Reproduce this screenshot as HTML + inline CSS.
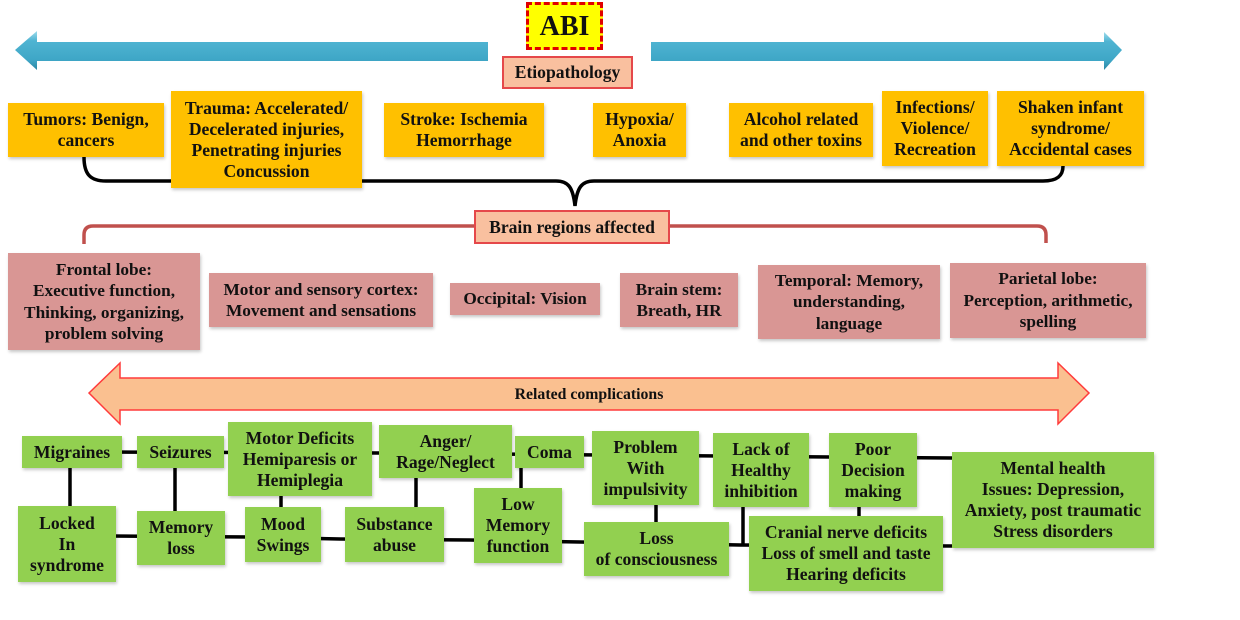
<!DOCTYPE html>
<html>
<head>
<meta charset="utf-8">
<style>
  html,body{margin:0;padding:0;background:#fff;}
  #c{position:relative;width:1240px;height:620px;overflow:hidden;background:#fff;
     font-family:"Liberation Serif","Times New Roman",serif;font-weight:bold;color:#111;}
  .b{position:absolute;box-sizing:border-box;display:flex;align-items:center;justify-content:center;
     text-align:center;line-height:21px;white-space:nowrap;box-shadow:1px 2px 3px rgba(0,0,0,0.22);}
  .o{background:#FFC000;font-size:17.6px;}
  .p{background:#D99694;font-size:17.3px;line-height:21.5px;}
  .g{background:#92D050;font-size:17.6px;}
  .s{background:#F9C09F;border:2px solid #E5484A;font-size:17.6px;box-shadow:none;}
  svg{position:absolute;left:0;top:0;}
</style>
</head>
<body>
<div id="c">
<svg width="1240" height="620" viewBox="0 0 1240 620">
  <defs>
    <linearGradient id="bl" x1="0" y1="0" x2="0" y2="1">
      <stop offset="0" stop-color="#9fdcec"/>
      <stop offset="0.25" stop-color="#4fb4d2"/>
      <stop offset="0.75" stop-color="#3ea6c6"/>
      <stop offset="1" stop-color="#2c86a3"/>
    </linearGradient>
  </defs>
  <!-- blue arrows -->
  <polygon points="15,50 37,31 37,42 488,42 488,61 37,61 37,70" fill="url(#bl)"/>
  <polygon points="651,42 1104,42 1104,32 1122,50 1104,70 1104,61 651,61" fill="url(#bl)"/>
  <!-- black brace -->
  <path d="M84,157 C84,174 90,181 106,181 L556,181 C568,181 573,187 575,206 C577,187 582,181 594,181 L1043,181 C1057,181 1063,176 1063,166"
        fill="none" stroke="#000" stroke-width="3.5"/>
  <!-- red bracket -->
  <path d="M474,226 L93,226 Q84,226 84,235 L84,244" fill="none" stroke="#C0504D" stroke-width="3.5"/>
  <path d="M670,226 L1037,226 Q1046,226 1046,235 L1046,243" fill="none" stroke="#C0504D" stroke-width="3.5"/>
  <!-- orange double arrow -->
  <polygon points="89,393 120,363 120,378 1058,378 1058,363 1089,393 1058,424 1058,410 120,410 120,424"
           fill="#FAC090" stroke="#FF3B3B" stroke-width="1.5"/>
  <text x="589" y="399" text-anchor="middle" font-family="Liberation Serif, serif" font-weight="bold" font-size="15.8" fill="#111">Related complications</text>
  <!-- connectors -->
  <g fill="none" stroke="#000" stroke-width="3.5">
    <path d="M110,452 L380,453 L600,455 L830,457 L952,458"/>
    <path d="M110,536 L250,537 L340,539 L470,540 L580,542 L740,545 L952,546"/>
    <path d="M70,466 V508"/>
    <path d="M175,466 V512"/>
    <path d="M281,494 V509"/>
    <path d="M416,476 V509"/>
    <path d="M521,466 V490"/>
    <path d="M656,503 V523"/>
    <path d="M743,505 V545"/>
    <path d="M859,505 V518"/>
  </g>
</svg>

<!-- ABI -->
<div class="b" style="left:526px;top:2px;width:77px;height:48px;background:#FFFF00;border:3px dashed #E00000;font-size:28px;box-shadow:none;">ABI</div>
<div class="b s" style="left:502px;top:56px;width:131px;height:33px;">Etiopathology</div>

<!-- etiology row -->
<div class="b o" style="left:8px;top:103px;width:156px;height:54px;">Tumors: Benign,<br>cancers</div>
<div class="b o" style="left:171px;top:91px;width:191px;height:97px;">Trauma: Accelerated/<br>Decelerated injuries,<br>Penetrating injuries<br>Concussion</div>
<div class="b o" style="left:384px;top:103px;width:160px;height:54px;">Stroke: Ischemia<br>Hemorrhage</div>
<div class="b o" style="left:593px;top:103px;width:93px;height:54px;">Hypoxia/<br>Anoxia</div>
<div class="b o" style="left:729px;top:103px;width:144px;height:54px;">Alcohol related<br>and other toxins</div>
<div class="b o" style="left:882px;top:91px;width:106px;height:75px;">Infections/<br>Violence/<br>Recreation</div>
<div class="b o" style="left:997px;top:91px;width:147px;height:75px;">Shaken infant<br>syndrome/<br>Accidental cases</div>

<!-- brain regions -->
<div class="b s" style="left:474px;top:210px;width:196px;height:34px;">Brain regions affected</div>
<div class="b p" style="left:8px;top:253px;width:192px;height:97px;">Frontal lobe:<br>Executive function,<br>Thinking, organizing,<br>problem solving</div>
<div class="b p" style="left:209px;top:273px;width:224px;height:54px;">Motor and sensory cortex:<br>Movement and sensations</div>
<div class="b p" style="left:450px;top:283px;width:150px;height:32px;">Occipital: Vision</div>
<div class="b p" style="left:620px;top:273px;width:118px;height:54px;">Brain stem:<br>Breath, HR</div>
<div class="b p" style="left:758px;top:265px;width:182px;height:74px;">Temporal: Memory,<br>understanding,<br>language</div>
<div class="b p" style="left:950px;top:263px;width:196px;height:75px;">Parietal lobe:<br>Perception, arithmetic,<br>spelling</div>

<!-- complications -->
<div class="b g" style="left:22px;top:436px;width:100px;height:32px;">Migraines</div>
<div class="b g" style="left:137px;top:436px;width:87px;height:32px;">Seizures</div>
<div class="b g" style="left:228px;top:422px;width:144px;height:74px;">Motor Deficits<br>Hemiparesis or<br>Hemiplegia</div>
<div class="b g" style="left:379px;top:425px;width:133px;height:53px;">Anger/<br>Rage/Neglect</div>
<div class="b g" style="left:515px;top:436px;width:69px;height:32px;">Coma</div>
<div class="b g" style="left:592px;top:431px;width:107px;height:74px;">Problem<br>With<br>impulsivity</div>
<div class="b g" style="left:713px;top:433px;width:96px;height:74px;">Lack of<br>Healthy<br>inhibition</div>
<div class="b g" style="left:829px;top:433px;width:88px;height:74px;">Poor<br>Decision<br>making</div>
<div class="b g" style="left:952px;top:452px;width:202px;height:96px;">Mental health<br>Issues: Depression,<br>Anxiety, post traumatic<br>Stress disorders</div>

<div class="b g" style="left:18px;top:506px;width:98px;height:76px;">Locked<br>In<br>syndrome</div>
<div class="b g" style="left:137px;top:511px;width:88px;height:54px;">Memory<br>loss</div>
<div class="b g" style="left:245px;top:507px;width:76px;height:55px;">Mood<br>Swings</div>
<div class="b g" style="left:345px;top:507px;width:99px;height:55px;">Substance<br>abuse</div>
<div class="b g" style="left:474px;top:488px;width:88px;height:75px;">Low<br>Memory<br>function</div>
<div class="b g" style="left:584px;top:522px;width:145px;height:54px;">Loss<br>of consciousness</div>
<div class="b g" style="left:749px;top:516px;width:194px;height:75px;">Cranial nerve deficits<br>Loss of smell and taste<br>Hearing deficits</div>
</div>
</body>
</html>
